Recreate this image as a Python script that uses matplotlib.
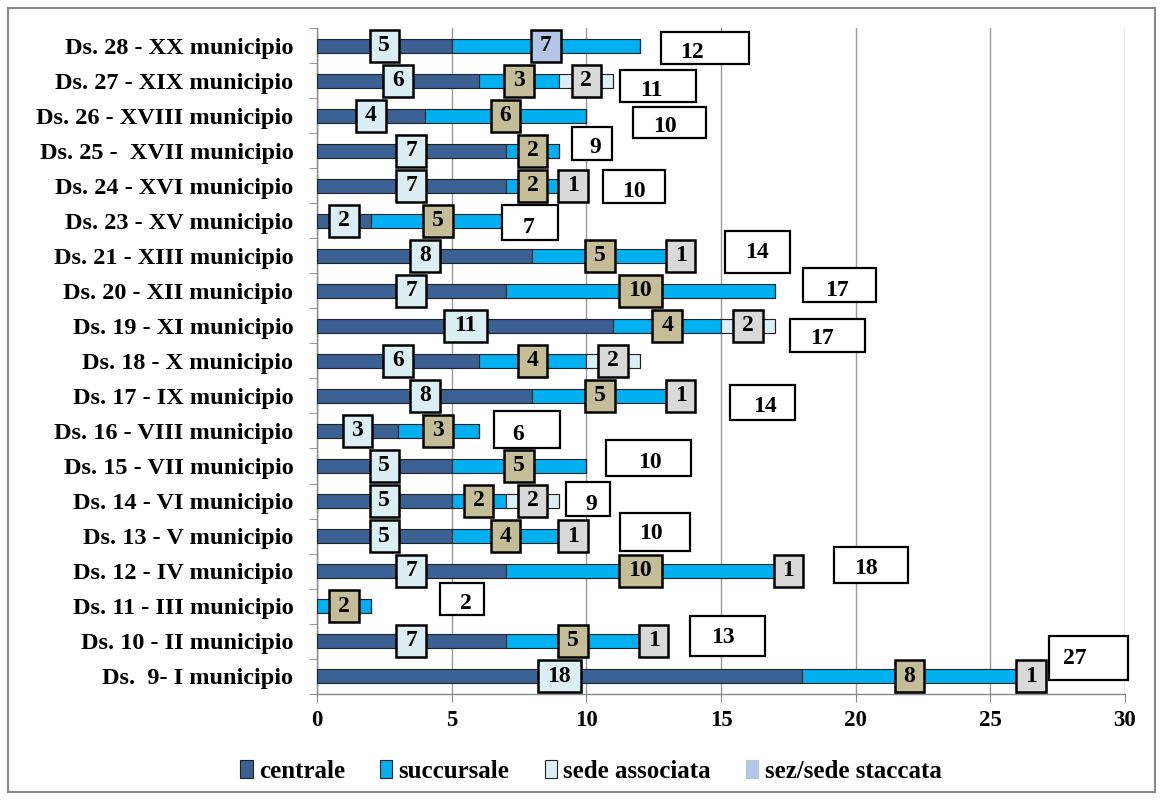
import matplotlib
matplotlib.use('Agg')
import matplotlib.pyplot as plt
from matplotlib.patches import Rectangle, Patch
import numpy as np

categories = ["Ds. 28 - XX municipio", "Ds. 27 - XIX municipio", "Ds. 26 - XVIII municipio",
              "Ds. 25 -  XVII municipio", "Ds. 24 - XVI municipio", "Ds. 23 - XV municipio",
              "Ds. 21 - XIII municipio", "Ds. 20 - XII municipio", "Ds. 19 - XI municipio",
              "Ds. 18 - X municipio", "Ds. 17 - IX municipio", "Ds. 16 - VIII municipio",
              "Ds. 15 - VII municipio", "Ds. 14 - VI municipio", "Ds. 13 - V municipio",
              "Ds. 12 - IV municipio", "Ds. 11 - III municipio", "Ds. 10 - II municipio",
              "Ds.  9- I municipio"]
centrale = [5, 6, 4, 7, 7, 2, 8, 7, 11, 6, 8, 3, 5, 5, 5, 7, 0, 7, 18]
succursale = [7, 3, 6, 2, 2, 5, 5, 10, 4, 4, 5, 3, 5, 2, 4, 10, 2, 5, 8]
sede_associata = [0, 2, 0, 0, 1, 0, 1, 0, 2, 2, 1, 0, 0, 2, 1, 1, 0, 1, 1]
sez_staccata = [0] * 19
totals = [12, 11, 10, 9, 10, 7, 14, 17, 17, None, 14, 6, 10, 9, 10, 18, 2, 13, 27]
series_names = ["centrale", "succursale", "sede associata", "sez/sede staccata"]
x_ticks = [0, 5, 10, 15, 20, 25, 30]

# placement of the hand-positioned total boxes (styling)
tot_x0 = [12.77, 11.25, 11.73, 9.47, 10.62, 6.87, 15.15, 18.05, 17.56, None, 15.34, 6.57, 10.73, 9.25, 11.25, 19.2, 4.57, 13.85, 27.18]
tot_x1 = [16.04, 14.07, 14.44, 10.95, 12.92, 8.95, 17.56, 20.76, 20.35, None, 17.75, 9.02, 13.89, 10.88, 13.85, 21.95, 6.2, 16.64, 30.11]
tot_top = [0.4, 0.31, 0.26, 0.69, 0.46, 0.46, 0.71, 0.66, 0.2, None, 0.31, 0.57, 0.74, 0.54, 0.66, 0.69, 0.66, 0.71, 1.14]
tot_bot = [-0.51, -0.6, -0.63, -0.26, -0.49, -0.54, -0.49, -0.31, -0.74, None, -0.69, -0.49, -0.29, -0.43, -0.43, -0.34, -0.26, -0.43, -0.11]
tot_tx = [13.93, 12.40, 12.92, 10.32, 11.77, 7.84, 16.34, 19.31, 18.75, None, 16.64, 7.46, 12.37, 10.17, 12.40, 20.39, 5.53, 15.08, 28.15]
tot_ty = [-0.2, -0.26, -0.31, 0.11, -0.17, -0.2, 0.09, 0.0, -0.37, None, -0.29, -0.11, 0.11, -0.09, 0.06, 0.06, 0.06, 0.09, 0.51]

bar_colors = ["#3B6193", "#00B0F0", "#DAEEF3", "#B4C6E7"]
label_colors = ["#DAEEF3", "#C4BD97", "#D9D9D9", "#B4C6E7"]
FONT = "Liberation Serif"

plt.rcParams['font.family'] = FONT
plt.rcParams['font.weight'] = 'bold'

fig = plt.figure(figsize=(11.63, 8.0), dpi=100)
ax = fig.add_axes([317/1163, 1 - 693.5/800, (1125-317)/1163, (693.5-28.5)/800])

n = len(categories)
ypos = np.arange(n)[::-1]
series = [centrale, succursale, sede_associata, sez_staccata]
left = np.zeros(n)
bar_h = 0.4
for s, vals in enumerate(series):
    vals = np.array(vals, dtype=float)
    ax.barh(ypos, vals, left=left, height=bar_h, color=bar_colors[s],
            edgecolor="#222222", linewidth=0.8, zorder=3)
    for i in range(n):
        v = vals[i]
        if v > 0:
            cx = left[i] + v / 2
            w = 1.1 if v < 10 else 1.6
            fc = label_colors[s]
            if i == 0 and s == 1:
                fc = label_colors[3]
            ax.add_patch(Rectangle((cx - w/2, ypos[i] - 0.47), w, 0.94, facecolor=fc,
                                   edgecolor="black", linewidth=1.8, zorder=5))
            ax.text(cx, ypos[i], f"{int(v)}", ha="center", va="center",
                    fontsize=17, fontweight="bold", zorder=6)
    left = left + vals

for i in range(n):
    if totals[i] is None:
        continue
    ax.add_patch(Rectangle((tot_x0[i], ypos[i] + tot_bot[i]), tot_x1[i] - tot_x0[i],
                           tot_top[i] - tot_bot[i], facecolor="white", edgecolor="black",
                           linewidth=1.6, zorder=5, clip_on=False))
    ax.text(tot_tx[i], ypos[i] + tot_ty[i], f"{totals[i]}", ha="center", va="center",
            fontsize=17, fontweight="bold", zorder=6)

ax.set_xlim(0, 30)
ax.set_ylim(-0.5, n - 0.5)
ax.set_xticks(x_ticks)
ax.set_xticklabels([str(t) for t in x_ticks], fontsize=16.5, fontweight="bold")
ax.set_yticks(ypos)
ax.set_yticklabels(categories, fontsize=17.5, fontweight="bold")
ax.set_yticks(np.arange(n + 1) - 0.5, minor=True)
ax.tick_params(axis="y", which="major", length=0, pad=17)
ax.tick_params(axis="y", which="minor", length=6, color="#888888", direction="out")
ax.tick_params(axis="x", which="major", length=6, color="#888888", direction="out", pad=6)
ax.grid(axis="x", color="#999999", linewidth=1.0, zorder=0)
ax.set_axisbelow(True)
for sp in ["top", "right"]:
    ax.spines[sp].set_visible(False)
for sp in ["left", "bottom"]:
    ax.spines[sp].set_color("#888888")
    ax.spines[sp].set_linewidth(1.0)

handles = [Patch(facecolor=bar_colors[k], edgecolor="#222222" if k < 3 else bar_colors[k],
                 linewidth=0.8, label=series_names[k]) for k in range(4)]
fig.legend(handles=handles, loc="center", bbox_to_anchor=(0.508, 0.036), ncol=4, frameon=False,
           prop={"family": FONT, "weight": "bold", "size": 18}, handlelength=0.5,
           handleheight=0.75, handletextpad=0.25, columnspacing=1.4)

fig.add_artist(Rectangle((8/1163, 8/800), 1 - 16/1163, 1 - 16/800, transform=fig.transFigure,
                         facecolor="none", edgecolor="#888888", linewidth=1.5))

fig.savefig("out.png", dpi=100)
